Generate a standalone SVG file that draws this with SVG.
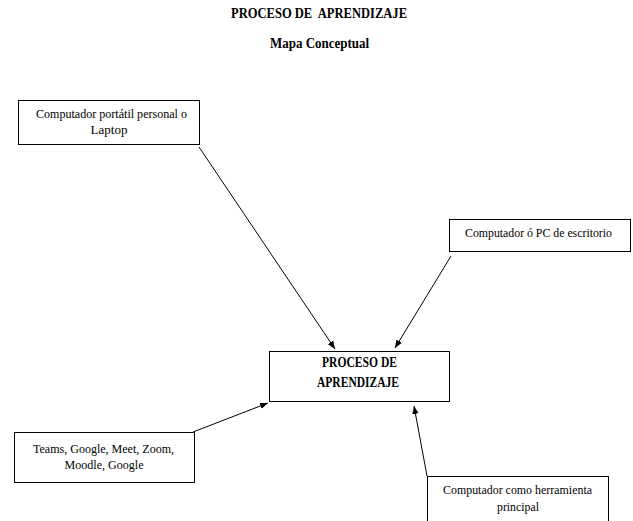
<svg xmlns="http://www.w3.org/2000/svg" width="633" height="521" viewBox="0 0 633 521">
<style>
.box{fill:#fff;stroke:#000;stroke-width:1}
.t{font-family:"Liberation Serif","Times New Roman",serif;font-size:13px;fill:#000}
.b{font-family:"Liberation Serif","Times New Roman",serif;font-size:14px;font-weight:bold;fill:#000}
.c{stroke:#000;stroke-width:1;fill:none;marker-end:url(#ah)}
</style>
<defs>
<marker id="ah" viewBox="0 0 10 10" refX="10" refY="5" markerWidth="8" markerHeight="8" markerUnits="userSpaceOnUse" orient="auto">
<path d="M0,1 L10,5 L0,9 z" fill="#000"/>
</marker>
</defs>
<rect width="633" height="521" fill="#fff"/>
<text class="b" x="231" y="18" textLength="176" lengthAdjust="spacingAndGlyphs">PROCESO DE&#160; APRENDIZAJE</text>
<text class="b" x="270" y="48" textLength="99" lengthAdjust="spacingAndGlyphs">Mapa Conceptual</text>
<g id="connectors">
<line class="c" x1="199" y1="147" x2="335" y2="349"/>
<line class="c" x1="451" y1="256" x2="395" y2="348"/>
<line class="c" x1="193" y1="432" x2="268" y2="403"/>
<line class="c" x1="427" y1="476" x2="414" y2="406"/>
</g>
<g id="n1">
<rect class="box" x="18.5" y="100.5" width="181" height="44"/>
<text class="t" x="36" y="118" textLength="151" lengthAdjust="spacingAndGlyphs">Computador portátil personal o</text>
<text class="t" x="109" y="134" text-anchor="middle" textLength="37" lengthAdjust="spacingAndGlyphs">Laptop</text>
</g>
<g id="n2">
<rect class="box" x="449.5" y="219.5" width="181" height="32"/>
<text class="t" x="465" y="237" textLength="147" lengthAdjust="spacingAndGlyphs">Computador ó PC de escritorio</text>
</g>
<g id="center">
<rect class="box" x="269.5" y="351.5" width="180" height="50"/>
<text class="b" x="322" y="367" textLength="75" lengthAdjust="spacingAndGlyphs">PROCESO DE</text>
<text class="b" x="317" y="387" textLength="82" lengthAdjust="spacingAndGlyphs">APRENDIZAJE</text>
</g>
<g id="n4">
<rect class="box" x="14.5" y="432.5" width="180" height="50"/>
<text class="t" x="33" y="453" textLength="141" lengthAdjust="spacingAndGlyphs">Teams, Google, Meet, Zoom,</text>
<text class="t" x="104" y="469" text-anchor="middle" textLength="79" lengthAdjust="spacingAndGlyphs">Moodle, Google</text>
</g>
<g id="n5">
<rect class="box" x="427.5" y="476.5" width="181" height="50"/>
<text class="t" x="443" y="494" textLength="149" lengthAdjust="spacingAndGlyphs">Computador como herramienta</text>
<text class="t" x="518" y="511" text-anchor="middle" textLength="42" lengthAdjust="spacingAndGlyphs">principal</text>
</g>
</svg>
